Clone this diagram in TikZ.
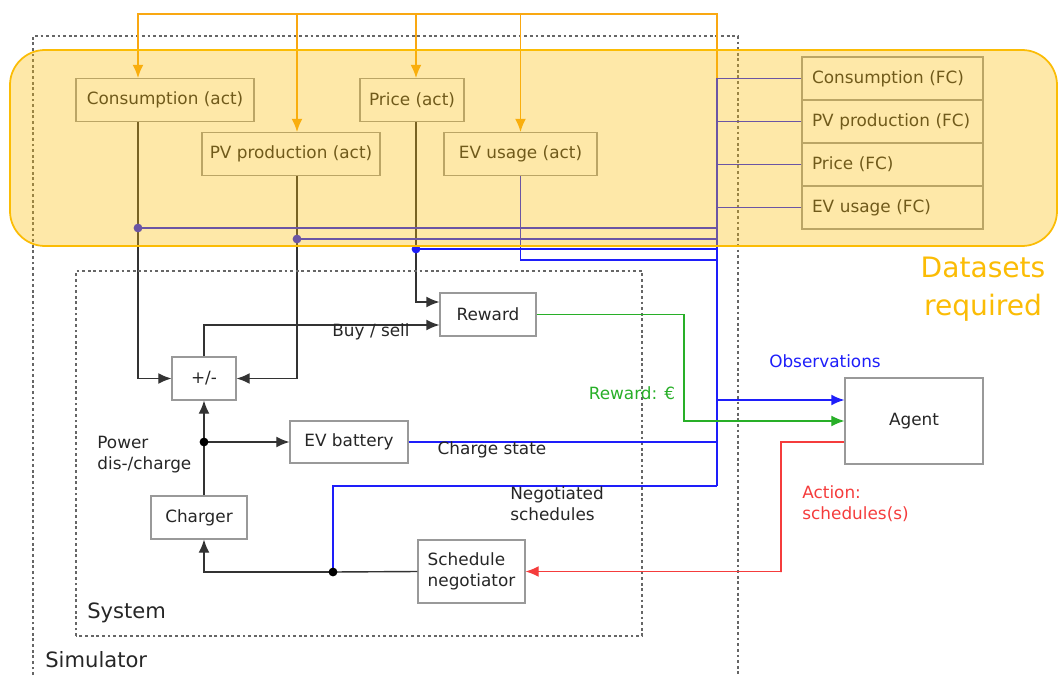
\documentclass[tikz,border=0pt]{standalone}
\usepackage{fontspec}
\setmainfont{DejaVu Sans}
\usetikzlibrary{arrows.meta}
\definecolor{laranja}{RGB}{249,168,18}
\definecolor{laranjadados}{RGB}{251,188,5}
\definecolor{azul}{RGB}{30,30,250}
\definecolor{verde}{RGB}{40,175,40}
\definecolor{vermelho}{RGB}{245,60,60}
\tikzset{
	caixa/.style = {draw = black!40, line width = 0.6pt, text = black!85, inner sep = 0pt, minimum height = 0.86cm, font = \fontsize{9.6}{12}\selectfont},
	caixafc/.style = {caixa, text width = 3.22cm, align = left, inner xsep = 0.2cm},
	rotulo/.style = {inner sep = 0pt, text = black!85, font = \fontsize{9.6}{12}\selectfont},
	seta/.style = {-{Latex[length = 7.5pt, width = 6.2pt]}},
	preta/.style = {draw = black!80, line width = 0.8pt},
	linhaazul/.style = {draw = azul, line width = 0.9pt},
	azulfina/.style = {draw = azul, line width = 0.6pt},
	tracejado/.style = {draw = black!60, line width = 0.7pt, dash pattern = on 1.6pt off 1.6pt}
}

\begin{document}
\begin{tikzpicture}

	\useasboundingbox (0, 0) rectangle (21.16, 13.50);

	\draw[tracejado] (0.66, 0) -- (0.66, 12.78) -- (14.76, 12.78) -- (14.76, 0); % Simulador

	% Dados (act)
	\node[caixa, minimum width = 3.56cm] (cons)  at ( 3.30, 11.50) {Consumption (act)};
	\node[caixa, minimum width = 3.56cm] (pv)    at ( 5.82, 10.42) {PV production (act)};
	\node[caixa, minimum width = 2.08cm] (price) at ( 8.24, 11.50) {Price (act)};
	\node[caixa, minimum width = 3.06cm] (evu)   at (10.41, 10.42) {EV usage (act)};

	% Dados (FC)
	\node[caixafc] (fccons)  at (17.85, 11.93) {Consumption (FC)};
	\node[caixafc] (fcpv)    at (17.85, 11.07) {PV production (FC)};
	\node[caixafc] (fcprice) at (17.85, 10.21) {Price (FC)};
	\node[caixafc] (fcevu)   at (17.85,  9.35) {EV usage (FC)};

	% Sistema
	\node[caixa, minimum width = 1.92cm] (reward)  at ( 9.76, 7.21) {Reward};
	\node[caixa, minimum width = 1.28cm] (pm)      at ( 4.08, 5.93) {+/-};
	\node[caixa, minimum width = 2.36cm, minimum height = 0.84cm] (evb) at ( 6.98, 4.66) {EV battery};
	\node[caixa, minimum width = 1.92cm] (charger) at ( 3.98, 3.15) {Charger};
	\node[caixa, minimum width = 2.14cm, minimum height = 1.26cm, align = left] (sched) at ( 9.43, 2.07) {Schedule\\negotiator};
	\node[caixa, minimum width = 2.76cm, minimum height = 1.72cm] (agent) at (18.28, 5.08) {Agent};

	\coordinate (otopo)   at (14.34, 13.22);
	\coordinate (bustopo) at (14.34, 11.93);
	\coordinate (busbase) at (14.34,  3.78);
	\coordinate (dcons)   at ( 2.76,  8.94);
	\coordinate (dpv)     at ( 5.94,  8.72);
	\coordinate (dprice)  at ( 8.32,  8.52);
	\coordinate (jevu)    at (14.34,  8.30);
	\coordinate (jobs)    at (14.34,  5.50);
	\coordinate (jrew)    at (13.68,  5.08);
	\coordinate (jact)    at (15.62,  2.06);
	\coordinate (dpow)    at ( 4.08,  4.66);
	\coordinate (dneg)    at ( 6.66,  2.06);

	% Linhas laranja
	\draw[laranja, line width = 0.8pt, seta] (bustopo) -- (otopo) -| (cons.north -| dcons);
	\draw[laranja, line width = 0.8pt, seta] (otopo -| dpv) -- (pv.north -| dpv);
	\draw[laranja, line width = 0.8pt, seta] (otopo -| dprice) -- (price.north -| dprice);
	\draw[laranja, line width = 0.8pt, seta] (otopo -| evu.north) -- (evu.north);

	% Dados -> sistema
	\draw[preta] (cons.south -| dcons) -- (dcons);
	\draw[preta, seta] (dcons) |- (pm.west);
	\draw[preta] (pv.south -| dpv) -- (dpv);
	\draw[preta, seta] (dpv) |- (pm.east);
	\draw[preta] (price.south -| dprice) -- (dprice);
	\draw[preta, seta] (dprice) |- ([yshift = 0.25cm]reward.west);

	% Observacoes
	\draw[azulfina] (dcons) -- (dcons -| bustopo);
	\draw[azulfina] (dpv) -- (dpv -| bustopo);
	\draw[linhaazul] (dprice) -- (dprice -| bustopo);
	\draw[azulfina] (evu.south) |- (jevu);
	\draw[azulfina] (fccons.west) -- (bustopo);
	\draw[azulfina] (fcpv.west) -- (fcpv.west -| bustopo);
	\draw[azulfina] (fcprice.west) -- (fcprice.west -| bustopo);
	\draw[azulfina] (fcevu.west) -- (fcevu.west -| bustopo);
	\draw[linhaazul] (bustopo) -- (busbase);
	\fill[azul] (dcons) circle (2.5pt);
	\fill[azul] (dpv) circle (2.5pt);
	\fill[azul] (dprice) circle (2.5pt);

	% Area dos dados
	\fill[laranjadados, opacity = 0.35, rounded corners = 0.7cm] (0.20, 8.58) rectangle (21.14, 12.50);
	\draw[laranjadados, line width = 1pt, rounded corners = 0.7cm] (0.20, 8.58) rectangle (21.14, 12.50);
	\node[inner sep = 0pt, text = laranjadados, align = center, font = \fontsize{16}{21.5}\selectfont] (ldados) at (19.66, 7.72) {Datasets\\required};

	\draw[tracejado] (1.52, 0.78) rectangle (12.84, 8.08); % Sistema

	\draw[preta, seta] (pm.north) |- ([yshift = -0.21cm]reward.west);
	\draw[preta, seta] (pm.south |- charger.north) -- (pm.south);
	\draw[preta, seta] (dpow) -- (evb.west);
	\draw[preta] (sched.west) -- (dneg);
	\draw[preta, seta] (dneg) -| (pm.south |- charger.south);

	\draw[linhaazul] (evb.east) -- (evb.east -| busbase);
	\draw[linhaazul] (dneg) |- (busbase);
	\draw[linhaazul, seta] (jobs) -- (jobs -| agent.west);
	\draw[verde, line width = 0.7pt, seta] (reward.east) -| (jrew) -- (agent.west);
	\draw[vermelho, line width = 0.7pt, seta] ([yshift = -0.42cm]agent.west) -| (jact) |- (sched.east);

	\fill[black] (dpow) circle (2.5pt);
	\fill[black] (dneg) circle (2.5pt);

	\node[rotulo] (lbuy) at (7.42, 6.86) {Buy / sell};
	\node[rotulo, anchor = west, align = left] (lpow) at (1.94, 4.40) {Power\\dis-/charge};
	\node[rotulo] (lcharge) at (9.84, 4.50) {Charge state};
	\node[rotulo, anchor = west, align = left] (lneg) at (10.20, 3.43) {Negotiated\\schedules};
	\node[rotulo, text = azul] (lobs) at (16.50, 6.28) {Observations};
	\node[rotulo, text = verde] (lrew) at (12.64, 5.64) {Reward: €};
	\node[rotulo, text = vermelho, anchor = west, align = left] (lact) at (16.04, 3.43) {Action:\\schedules(s)};
	\node[rotulo, anchor = west, font = \fontsize{12}{14}\selectfont] (lsys) at (1.74, 1.24) {System};
	\node[rotulo, anchor = west, font = \fontsize{12}{14}\selectfont] (lsim) at (0.90, 0.30) {Simulator};

\end{tikzpicture}
\end{document}
